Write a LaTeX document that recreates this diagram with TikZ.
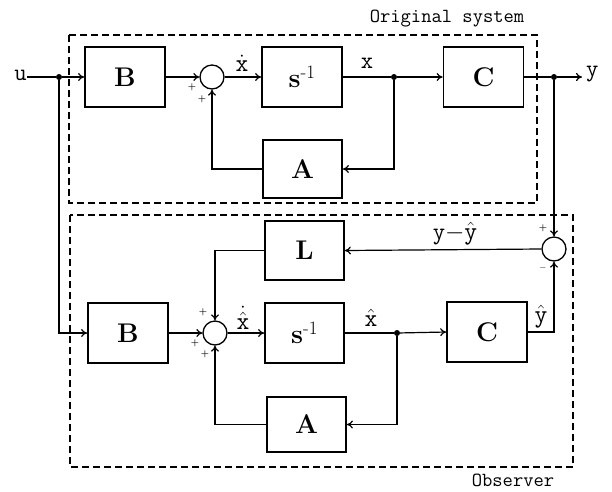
\documentclass[tikz,border=0pt]{standalone}
\usetikzlibrary{arrows.meta}
\begin{document}
\begin{tikzpicture}[x=1pt,y=-1pt,
  blk/.style={draw,line width=1.8pt,minimum width=80pt,minimum height=60pt,inner sep=0pt,
    font=\fontsize{27}{30}\selectfont\bfseries},
  sumc/.style={draw,circle,line width=1.3pt,minimum size=24pt,inner sep=0pt},
  jdot/.style={circle,fill,minimum size=6pt,inner sep=0pt},
  wire/.style={line width=1.2pt},
  arr/.style={wire,-{To[length=6pt,width=8pt]}},
  frame/.style={line width=1.4pt,dash pattern=on 7pt off 4pt},
  title/.style={font=\fontsize{20}{22}\selectfont\ttfamily},
  lbl/.style={font=\fontsize{24}{26}\selectfont\ttfamily,inner sep=0pt},
  sgn/.style={font=\fontsize{9}{9}\selectfont\bfseries,inner sep=0pt}]
\useasboundingbox (0,0) rectangle (612,491);
\newcommand{\sinv}{s\textsuperscript{\normalfont\mdseries -1}}

% frames
\draw[frame] (69,35) rectangle (537,203);
\draw[frame] (70,215) rectangle (573,467);
\node[title] at (447,19) {Original system};
\node[title,inner sep=0pt] at (513,480) {Observer};

% original system
\node[blk] (B1) at (125,77) {B};
\node[sumc] (s1) at (212,77) {};
\node[blk] (S1) at (302,77) {\sinv};
\node[blk] (C1) at (483.5,77) {C};
\node[blk,minimum width=79pt,minimum height=58pt] (A1) at (302.5,169) {A};
\node[jdot] (d1) at (59,77) {};
\node[jdot] (d2) at (394,77) {};
\node[jdot] (d3) at (554,77) {};
\node[lbl,anchor=east] (u) at (27,75) {u};
\coordinate (yout) at (582,77);
\node[lbl,anchor=west] (ylab) at (586,74) {y};

\draw[wire] (u.east |- d1) -- (d1);
\draw[arr] (d1) -- (B1.west);
\draw[arr] (B1.east) -- (s1.west);
\draw[arr] (s1.east) -- (S1.west);
\node[lbl] at (242,63) {$\dot{\mathtt{x}}$};
\draw[wire] (S1.east) -- (d2);
\node[lbl] at (367,63) {x};
\draw[arr] (d2) -- (C1.west);
\draw[arr] (d2) |- (A1.east);
\draw[arr] (A1.west) -| (s1.south);
\draw[wire] (C1.east) -- (d3);
\draw[arr] (d3) -- (yout);
\node[sgn] at (192,87) {+};
\node[sgn] at (202,99) {+};

% observer
\node[blk] (B2) at (128,333) {B};
\node[sumc] (s2) at (215,333) {};
\node[blk,minimum width=79pt] (S2) at (304.5,333) {\sinv};
\node[blk] (C2) at (487,332) {C};
\node[blk,minimum width=79pt,minimum height=59pt] (L) at (304.5,250.5) {L};
\node[blk,minimum width=79pt,minimum height=55pt] (A2) at (306.5,424.5) {A};
\node[sumc] (s3) at (554,249) {};
\node[jdot] (d4) at (397,333) {};

\draw[arr] (d1) |- (B2.west);
\draw[arr] (B2.east) -- (s2.west);
\draw[arr] (s2.east) -- (S2.west);
\node[lbl] at (243,318) {$\dot{\hat{\mathtt{x}}}$};
\draw[wire] (S2.east) -- (d4);
\node[lbl] at (371,318) {$\hat{\mathtt{x}}$};
\draw[arr] (d4) -- (C2.west);
\draw[arr] (d4) |- (A2.east);
\draw[arr] (A2.west) -| (s2.south);
\draw[arr] (L.west) -| (s2.north);
\draw[arr] (C2.east) -| (s3.south);
\node[lbl] at (541,317) {$\hat{\mathtt{y}}$};
\draw[arr] (d3) -- (s3.north);
\draw[arr] (s3.west) -- (L.east);
\node[lbl] at (455,234) {y$-\hat{\mathtt{y}}$};
\node[sgn] at (203,312) {+};
\node[sgn] at (195,343) {+};
\node[sgn] at (205,354) {+};
\node[sgn] at (543,228) {+};
\node[sgn] at (543,268) {$-$};
\end{tikzpicture}
\end{document}
